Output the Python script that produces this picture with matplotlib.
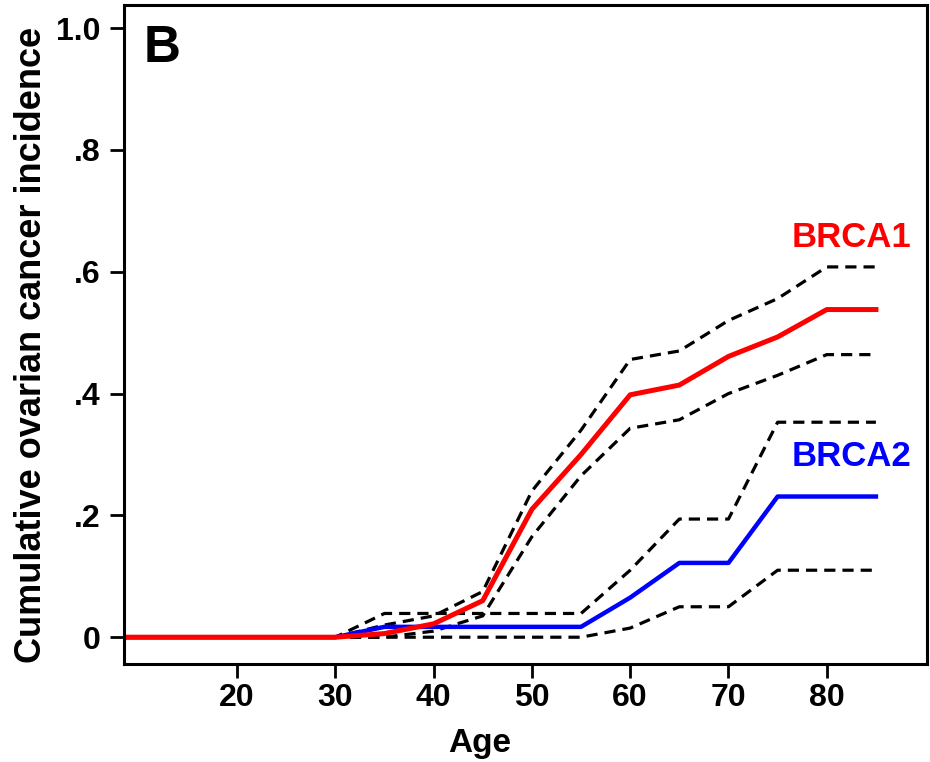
import numpy as np
import matplotlib.pyplot as plt

plt.rcParams['font.family'] = ['Liberation Sans', 'DejaVu Sans']
plt.rcParams['font.weight'] = 'bold'

# ages where the curves change slope
ages = [0, 30, 35, 40, 45, 50, 55, 60, 65, 70, 75, 80, 85]

# BRCA1 cumulative incidence with confidence band
brca1 = [0, 0, 0.006, 0.022, 0.06, 0.21, 0.30, 0.398, 0.414, 0.461, 0.493, 0.538, 0.538]
brca1_hi = [0, 0, 0.02, 0.035, 0.075, 0.24, 0.34, 0.456, 0.47, 0.52, 0.556, 0.608, 0.608]
brca1_lo = [0, 0, 0.0, 0.01, 0.035, 0.165, 0.265, 0.343, 0.357, 0.40, 0.43, 0.464, 0.464]

# BRCA2 cumulative incidence with confidence band
brca2 = [0, 0, 0.017, 0.017, 0.017, 0.017, 0.017, 0.065, 0.122, 0.122, 0.231, 0.231, 0.231]
brca2_hi = [0, 0, 0.039, 0.039, 0.039, 0.039, 0.039, 0.11, 0.194, 0.194, 0.353, 0.353, 0.353]
brca2_lo = [0, 0, 0, 0, 0, 0, 0, 0.015, 0.05, 0.05, 0.11, 0.11, 0.11]

xticks = [20, 30, 40, 50, 60, 70, 80]
yticks = [0, 0.2, 0.4, 0.6, 0.8, 1.0]
ytick_labels = ['0', '.2', '.4', '.6', '.8', '1.0']

fig = plt.figure(figsize=(9.3, 7.62), dpi=100)
ax = fig.add_axes([0.1333, 0.1286, 0.8635, 0.8648])

dash = dict(color='black', lw=2.3, linestyle=(0, (3.5, 2.2)))
ax.plot(ages, brca1_hi, **dash)
ax.plot(ages, brca1_lo, **dash)
ax.plot(ages, brca2_hi, **dash)
ax.plot(ages, brca2_lo, **dash)
ax.plot(ages, brca2, color='#0000ff', lw=3.2)
ax.plot(ages, brca1, color='#ff0000', lw=3.6)

ax.text(76.4, 0.657, 'BRCA1', color='#ff0000', fontsize=25, fontweight='bold', va='center', ha='left')
ax.text(76.4, 0.296, 'BRCA2', color='#0000ff', fontsize=25, fontweight='bold', va='center', ha='left')
ax.text(10.5, 0.967, 'B', color='black', fontsize=37, fontweight='bold', va='center', ha='left')

ax.set_xlim(8.5, 90.2)
ax.set_ylim(-0.044, 1.038)
ax.set_xticks(xticks)
ax.set_yticks(yticks)
ax.set_yticklabels(ytick_labels)
ax.tick_params(axis='both', direction='out', length=10, width=2, labelsize=23)
ax.tick_params(axis='y', pad=7)
ax.tick_params(axis='x', pad=4)
for lab in ax.get_xticklabels() + ax.get_yticklabels():
    lab.set_fontweight('bold')
for s in ax.spines.values():
    s.set_linewidth(2.2)

ax.set_xlabel('Age', fontsize=24, fontweight='bold')
ax.xaxis.label.set_va('center')
ax.xaxis.set_label_coords(0.443, -0.12)
ax.set_ylabel('Cumulative ovarian cancer incidence', fontsize=26, fontweight='bold')
ax.yaxis.label.set_va('center')
ax.yaxis.set_label_coords(-0.115, 0.484)

plt.savefig('out.png', dpi=100)
